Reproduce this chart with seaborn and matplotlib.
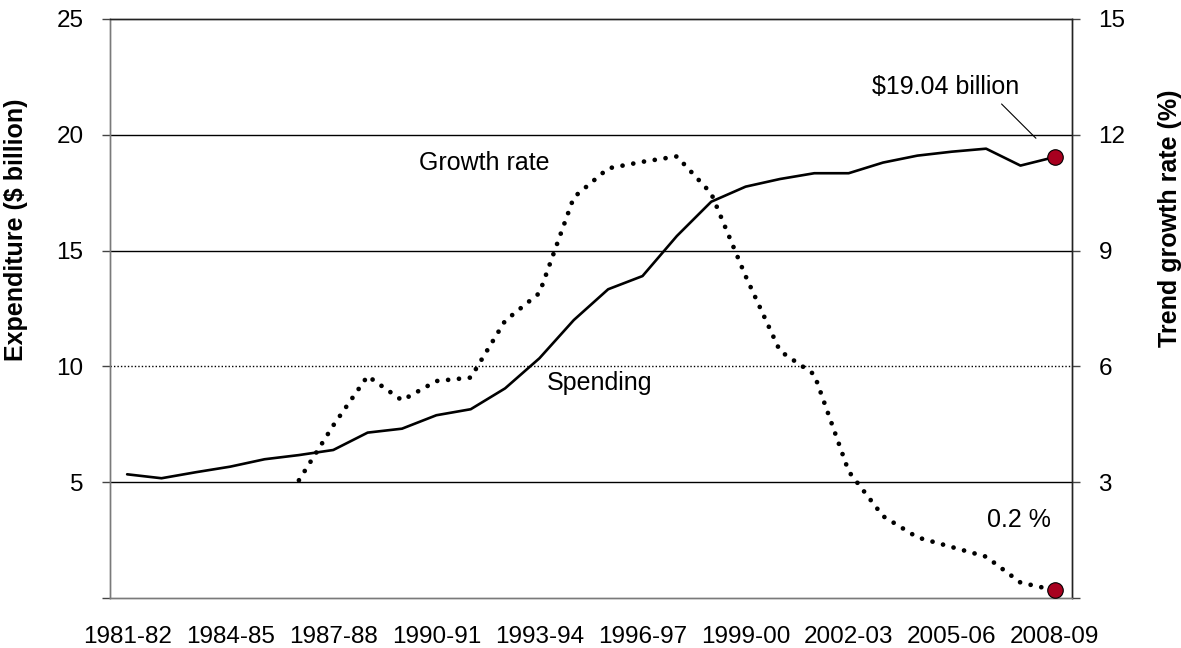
import numpy as np
import pandas as pd
import matplotlib
matplotlib.use("Agg")
import matplotlib.pyplot as plt
import seaborn as sns


# Data
YEARS = ["1981-82", "1982-83", "1983-84", "1984-85", "1985-86", "1986-87", "1987-88",
         "1988-89", "1989-90", "1990-91", "1991-92", "1992-93", "1993-94", "1994-95",
         "1995-96", "1996-97", "1997-98", "1998-99", "1999-00", "2000-01", "2001-02",
         "2002-03", "2003-04", "2004-05", "2005-06", "2006-07", "2007-08", "2008-09"]

# Expenditure ($ billion), left axis
SPENDING = [5.34, 5.17, 5.43, 5.67, 5.99, 6.17, 6.39, 7.14, 7.31, 7.89, 8.15, 9.05,
            10.35, 12.0, 13.33, 13.9, 15.63, 17.11, 17.76, 18.09, 18.34, 18.34, 18.8,
            19.1, 19.27, 19.4, 18.67, 19.04]

# Trend growth rate (%), right axis (starts 1986-87)
GROWTH = [np.nan, np.nan, np.nan, np.nan, np.nan,
          3.05, 4.47, 5.75, 5.12, 5.62, 5.71, 7.18, 7.90, 10.38, 11.13, 11.30, 11.44,
          10.48, 8.34, 6.40, 5.79, 3.28, 2.12, 1.57, 1.32, 1.07, 0.40, 0.2]

LEFT_TICKS = [0, 5, 10, 15, 20, 25]
RIGHT_TICKS = [0, 3, 6, 9, 12, 15]

RED = "#A8001F"
FS = 17.5


def main() -> None:
    df = pd.DataFrame({"pos": np.arange(len(YEARS)), "year": YEARS,
                       "spending": SPENDING, "growth": GROWTH})

    sns.set_style("white")
    plt.rcParams["font.family"] = ["Liberation Sans", "DejaVu Sans"]
    plt.rcParams["text.color"] = "black"
    plt.rcParams["axes.labelcolor"] = "black"

    fig = plt.figure(figsize=(11.81, 6.48), dpi=100)
    ax = fig.add_axes([0.0931, 0.0772, 0.8146, 0.8935])
    ax2 = ax.twinx()

    # gridlines (10 is dotted)
    for v in LEFT_TICKS[1:-1]:
        ax.axhline(v, color="black", lw=1.0, ls=(0, (1, 1.5)) if v == 10 else "-", zorder=1)

    # Spending line
    sns.lineplot(data=df, x="pos", y="spending", ax=ax, color="black", lw=1.9,
                 errorbar=None, zorder=3)
    sns.scatterplot(data=df.iloc[[-1]], x="pos", y="spending", ax=ax, s=125,
                    color=RED, edgecolor="black", linewidth=0.8, zorder=5)

    # Growth rate (dotted)
    sns.lineplot(data=df.dropna(), x="pos", y="growth", ax=ax2, color="black", lw=3.4,
                 linestyle=(0, (0.01, 2.3)), dash_capstyle="round", errorbar=None, zorder=3)
    sns.scatterplot(data=df.iloc[[-1]], x="pos", y="growth", ax=ax2, s=125,
                    color=RED, edgecolor="black", linewidth=0.8, zorder=5)

    # limits
    ax.set_xlim(-0.5, len(YEARS) - 0.5)
    ax.set_ylim(0, 25)
    ax2.set_ylim(0, 15)

    # x ticks: boundary marks + labels every 3 years
    ax.set_xticks(np.arange(-0.5, len(YEARS), 1))
    ax.set_xticklabels([])
    ax.set_xticks(np.arange(0, len(YEARS), 3), minor=True)
    ax.set_xticklabels(YEARS[::3], minor=True)
    ax.tick_params(axis="x", which="major", direction="inout", length=10, width=1,
                   color="#444444")
    ax.tick_params(axis="x", which="minor", length=0, labelsize=FS, pad=20,
                   labelcolor="black")

    # y ticks
    ax.set_yticks(LEFT_TICKS)
    ax.set_yticklabels([""] + [str(v) for v in LEFT_TICKS[1:]])
    ax.tick_params(axis="y", direction="out", length=6, width=1, color="#444444",
                   labelsize=FS, pad=13, labelcolor="black")
    ax2.set_yticks(RIGHT_TICKS)
    ax2.set_yticklabels([""] + [str(v) for v in RIGHT_TICKS[1:]])
    ax2.tick_params(axis="y", direction="out", length=6, width=1, color="#444444",
                    labelsize=FS, pad=13, labelcolor="black")

    # axis labels
    ax.set_xlabel("")
    ax.set_ylabel("Expenditure (\\$ billion)", fontsize=18, fontweight="bold")
    ax.yaxis.set_label_coords(-0.085, 0.636)
    ax2.set_ylabel("Trend growth rate (%)", fontsize=18, fontweight="bold")
    ax2.yaxis.set_label_coords(1.089, 0.655)

    # spines
    for a in (ax, ax2):
        for side, sp in a.spines.items():
            sp.set_linewidth(1.0)
            sp.set_color("#7a7a7a" if side in ("left", "bottom") else "#222222")
            sp.set_visible(True)

    # annotations
    ax.text(10.4, 18.78, "Growth rate", fontsize=18, ha="center", va="center")
    ax.text(13.76, 9.28, "Spending", fontsize=18, ha="center", va="center")
    ax.text(23.83, 22.06, "\\$19.04 billion", fontsize=18, ha="center", va="center")
    ax.plot([25.45, 26.45], [21.33, 19.85], color="black", lw=0.8)
    ax2.text(25.96, 2.02, "0.2 %", fontsize=18, ha="center", va="center")

    fig.savefig("out.png", dpi=100)


if __name__ == "__main__":
    main()
